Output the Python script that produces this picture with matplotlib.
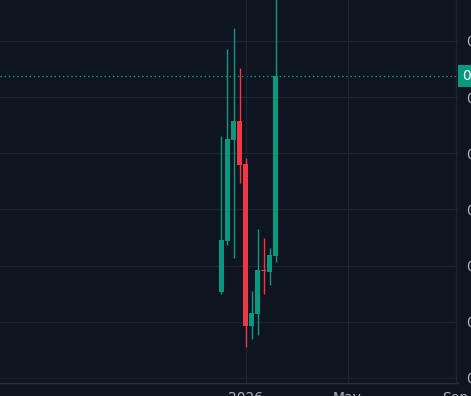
import matplotlib
matplotlib.use("Agg")
import matplotlib.pyplot as plt
import matplotlib.transforms as mtransforms
import pandas as pd
import numpy as np

# weekly candles
weeks = ["2025-12-01", "2025-12-08", "2025-12-15", "2025-12-22", "2025-12-29",
         "2026-01-05", "2026-01-12", "2026-01-19", "2026-01-26", "2026-02-02"]
opens = [0.353, 0.444, 0.624, 0.657, 0.581, 0.293, 0.314, 0.392, 0.389, 0.417]
highs = [0.631, 0.785, 0.823, 0.752, 0.592, 0.355, 0.465, 0.449, 0.431, 0.910]
lows = [0.350, 0.437, 0.414, 0.547, 0.255, 0.269, 0.277, 0.350, 0.366, 0.406]
closes = [0.446, 0.625, 0.657, 0.579, 0.293, 0.316, 0.392, 0.390, 0.419, 0.737]

price_ticks = [0.2, 0.3, 0.4, 0.5, 0.6, 0.7, 0.8]
time_ticks = ["2025-12-29", "2026-04-27", "2026-08-31"]
time_labels = ["2026", "May", "Sep"]

bg = "#0f1421"
grid = "#1e2330"
up = "#089981"
down = "#f23645"
txt = "#b2b5be"

x = np.array([d.toordinal() for d in pd.to_datetime(weeks)], dtype=float)
o = np.array(opens); h = np.array(highs); l = np.array(lows); c = np.array(closes)
col = np.where(c >= o, up, down)

fig = plt.figure(figsize=(4.71, 3.96), dpi=100, facecolor=bg)
ax = fig.add_axes([0, 13/396, 458/471, 383/396], facecolor=bg)

ax.vlines(x, l, h, colors=col, lw=1, zorder=2)
body_b = np.minimum(o, c)
body_h = np.maximum(np.abs(c - o), 0.003)
ax.bar(x, body_h, bottom=body_b, width=5.8, color=col, lw=0, zorder=3)

# last price line + label
last = c[-1]
ax.axhline(last, color=up, lw=1, ls=(0, (1, 2)), zorder=1)
tr = mtransforms.blended_transform_factory(ax.transAxes, ax.transData)
tr = tr + mtransforms.ScaledTranslation(4/100, 0, fig.dpi_scale_trans)
ax.text(1.0, last, f"{last:.4f}", transform=tr, ha="left", va="center", color="white",
        fontsize=10, clip_on=False,
        bbox=dict(boxstyle="square,pad=0.3", fc=up, ec="none"))

ref = pd.Timestamp("2025-12-29").toordinal()
ax.set_xlim(ref - 286.4, ref + 247.9)
ax.set_ylim(0.1911, 0.8726)

ax.set_yticks(price_ticks)
ax.set_yticklabels([f"{v:.4f}" for v in price_ticks])
ax.yaxis.tick_right()
ax.set_xticks([pd.Timestamp(t).toordinal() for t in time_ticks])
ax.set_xticklabels(time_labels)
ax.tick_params(axis="y", length=0, pad=5.5, colors=txt, labelsize=10)
ax.tick_params(axis="x", length=0, pad=6, colors=txt, labelsize=10)
ax.grid(True, color=grid, lw=1, zorder=0)

for s in ["top", "left", "right"]:
    ax.spines[s].set_visible(False)
ax.spines["bottom"].set_color("#2a2e39")
ax.spines["bottom"].set_linewidth(1)

fig.savefig("out.png", dpi=100, facecolor=bg)
